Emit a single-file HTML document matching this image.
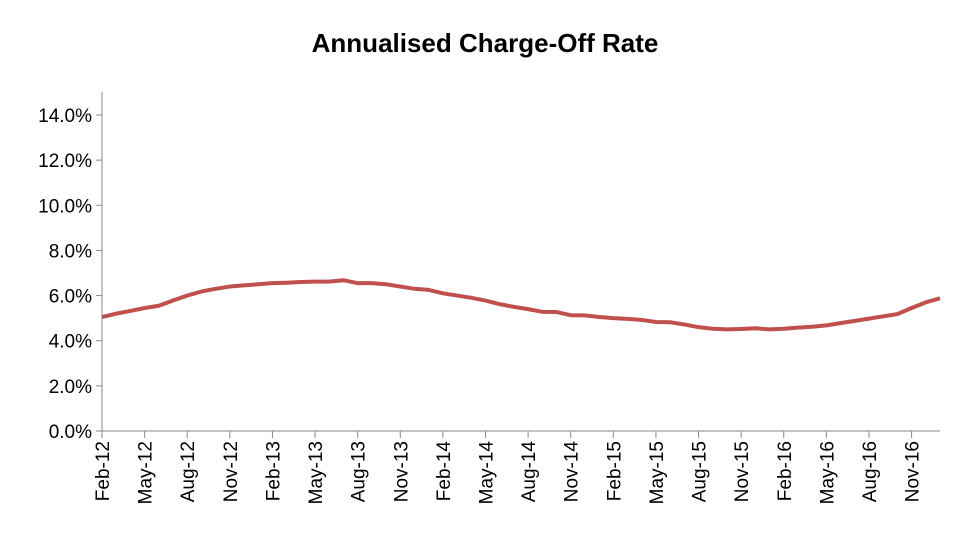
<!DOCTYPE html>
<html><head><meta charset="utf-8">
<style>
body{margin:0;background:#fff;}
svg{display:block;font-family:"Liberation Sans",Arial,sans-serif;}
</style></head>
<body>
<svg id="chart" width="969" height="542">
<text x="485" y="52" text-anchor="middle" font-size="26" font-weight="bold" fill="#000">Annualised Charge-Off Rate</text>
<g id="axes"></g>
<g id="series"></g>
</svg>
<script>
const months = ["Feb-12","Mar-12","Apr-12","May-12","Jun-12","Jul-12","Aug-12","Sep-12","Oct-12","Nov-12","Dec-12","Jan-13","Feb-13","Mar-13","Apr-13","May-13","Jun-13","Jul-13","Aug-13","Sep-13","Oct-13","Nov-13","Dec-13","Jan-14","Feb-14","Mar-14","Apr-14","May-14","Jun-14","Jul-14","Aug-14","Sep-14","Oct-14","Nov-14","Dec-14","Jan-15","Feb-15","Mar-15","Apr-15","May-15","Jun-15","Jul-15","Aug-15","Sep-15","Oct-15","Nov-15","Dec-15","Jan-16","Feb-16","Mar-16","Apr-16","May-16","Jun-16","Jul-16","Aug-16","Sep-16","Oct-16","Nov-16","Dec-16","Jan-17"];
const rates = [5.05,5.2,5.32,5.45,5.55,5.78,6.0,6.18,6.3,6.4,6.45,6.5,6.55,6.57,6.6,6.62,6.62,6.68,6.55,6.55,6.5,6.4,6.3,6.25,6.1,6.0,5.9,5.78,5.62,5.5,5.4,5.28,5.27,5.13,5.12,5.05,5.0,4.97,4.92,4.83,4.82,4.72,4.6,4.53,4.5,4.52,4.55,4.5,4.53,4.58,4.62,4.68,4.78,4.88,4.98,5.08,5.18,5.45,5.7,5.88];
const yTicks = [0,2,4,6,8,10,12,14];
const x0=102, x1=940, y0=431, yTop=115;
const xs = i => x0 + i*(x1-x0)/(months.length-1);
const ys = v => y0 - v*(y0-yTop)/14;
const NS="http://www.w3.org/2000/svg";
const axes=document.getElementById('axes');
function mk(tag,attrs,parent){const e=document.createElementNS(NS,tag);for(const k in attrs)e.setAttribute(k,attrs[k]);parent.appendChild(e);return e;}
let a=mk('line',{x1:x0,y1:92,x2:x0,y2:y0,stroke:'#888','stroke-width':1},axes);


a=mk('line',{x1:x0,y1:y0,x2:x1,y2:y0,stroke:'#888','stroke-width':1},axes);


yTicks.forEach(v=>{
  const y=ys(v);
  mk('line',{x1:x0-6,y1:y,x2:x0,y2:y,stroke:'#888'},axes);
  const t=mk('text',{x:x0-10,y:y+7,'text-anchor':'end','font-size':19,fill:'#000'},axes);
  t.textContent=v.toFixed(1)+'%';
  
  
});
months.forEach((m,i)=>{
  if(i%3!==0)return;
  const x=xs(i);
  mk('line',{x1:x,y1:y0,x2:x,y2:y0+7,stroke:'#888'},axes);
  const t=mk('text',{x:x+7,y:y0+10,'text-anchor':'end','font-size':19,fill:'#000',transform:`rotate(-90 ${x+7} ${y0+10})`},axes);
  t.textContent=m;
  
  
});
const p=mk('polyline',{points:rates.map((v,i)=>xs(i)+','+ys(v)).join(' '),fill:'none',stroke:'#c0504d','stroke-width':4,'stroke-linejoin':'round'},document.getElementById('series'));


</script>
</body></html>
